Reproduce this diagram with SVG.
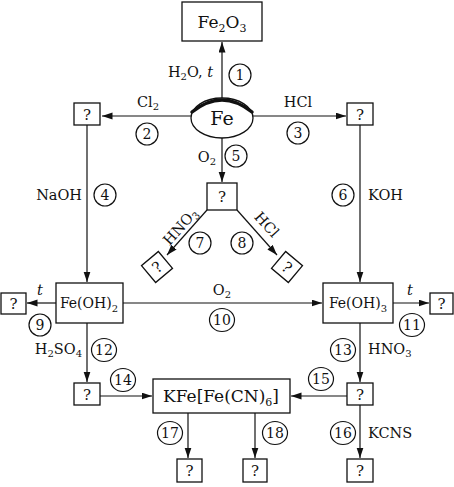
<svg xmlns="http://www.w3.org/2000/svg" width="454" height="487" viewBox="0 0 454 487">
<defs>
<marker id="ah" markerUnits="userSpaceOnUse" markerWidth="11" markerHeight="8" refX="10.5" refY="3.5" orient="auto">
<path d="M0,0 L10.5,3.5 L0,7 z" fill="#111"/>
</marker>
<style>
text{font-family:"DejaVu Serif","Liberation Serif",serif;fill:#111}
.box{fill:#fff;stroke:#111;stroke-width:1.3}
.c{fill:#fff;stroke:#111;stroke-width:1.2}
.n{font-size:14px;text-anchor:middle}
.l{font-size:14.5px}
.q{font-size:15px;text-anchor:middle}
#conn path{fill:none;stroke:#111;stroke-width:1.2;marker-end:url(#ah)}
</style>
</defs>
<rect width="454" height="487" fill="#fff"/>
<g id="conn">
<path d="M222,98 L222,42"/>
<path d="M191,116 L102,116"/>
<path d="M253,116 L346,116"/>
<path d="M87,125 L87,282"/>
<path d="M222,138 L222,182"/>
<path d="M360,125 L360,282"/>
<path d="M207,210 L167,255"/>
<path d="M237,210 L277,255"/>
<path d="M56,303 L27,303"/>
<path d="M123,303 L322,303"/>
<path d="M393,303 L429,303"/>
<path d="M87,323 L87,382"/>
<path d="M360,323 L360,382"/>
<path d="M100,396 L152,396"/>
<path d="M347,396 L291,396"/>
<path d="M360,405 L360,458"/>
<path d="M188,413 L188,458"/>
<path d="M255,413 L255,458"/>
</g>
<g id="fe2o3"><rect class="box" x="182" y="2" width="80" height="39"/>
<text x="222" y="28" font-size="17" text-anchor="middle">Fe<tspan font-size="11" dy="4">2</tspan><tspan dy="-4">O</tspan><tspan font-size="11" dy="4">3</tspan></text></g>
<g id="fe"><ellipse cx="222" cy="118" rx="31" ry="20" fill="#fff" stroke="#111" stroke-width="1.3"/>
<path d="M192,112 Q222,88 252,112" fill="none" stroke="#111" stroke-width="3.5" stroke-linecap="round"/>
<text x="222" y="125" font-size="19" text-anchor="middle">Fe</text></g>
<g id="q2"><rect class="box" x="74" y="103" width="26" height="22"/><text class="q" x="87" y="119.5">?</text></g>
<g id="q3"><rect class="box" x="347" y="103" width="26" height="22"/><text class="q" x="360" y="119.5">?</text></g>
<g id="q5"><rect class="box" x="207" y="183" width="30" height="27"/><text class="q" x="222" y="202">?</text></g>
<g id="q7" transform="translate(157,267) rotate(-40)"><rect class="box" x="-11" y="-11" width="22" height="22"/><text class="q" x="0" y="5.5">?</text></g>
<g id="q8" transform="translate(287,267) rotate(40)"><rect class="box" x="-11" y="-11" width="22" height="22"/><text class="q" x="0" y="5.5">?</text></g>
<g id="feoh2"><rect class="box" x="56" y="283" width="67" height="40"/>
<text x="89" y="308" font-size="14" text-anchor="middle">Fe(OH)<tspan font-size="10" dy="4">2</tspan></text></g>
<g id="feoh3"><rect class="box" x="323" y="283" width="70" height="40"/>
<text x="358" y="308" font-size="14" text-anchor="middle">Fe(OH)<tspan font-size="10" dy="4">3</tspan></text></g>
<g id="q9"><rect class="box" x="1" y="293" width="25" height="21"/><text class="q" x="13.5" y="309">?</text></g>
<g id="q11"><rect class="box" x="430" y="293" width="23" height="21"/><text class="q" x="441.5" y="309">?</text></g>
<g id="q12"><rect class="box" x="74" y="383" width="26" height="22"/><text class="q" x="87" y="399.5">?</text></g>
<g id="q13"><rect class="box" x="347" y="383" width="26" height="22"/><text class="q" x="360" y="399.5">?</text></g>
<g id="kfe"><rect class="box" x="153" y="379" width="137" height="34"/>
<text x="221" y="402" font-size="17" text-anchor="middle">KFe[Fe(CN)<tspan font-size="11" dy="4">6</tspan><tspan dy="-4">]</tspan></text></g>
<g id="q17"><rect class="box" x="177" y="459" width="25" height="23"/><text class="q" x="189.5" y="476">?</text></g>
<g id="q18"><rect class="box" x="243" y="459" width="24" height="23"/><text class="q" x="255" y="476">?</text></g>
<g id="q16"><rect class="box" x="347" y="459" width="26" height="23"/><text class="q" x="360" y="476">?</text></g>
<g id="labels">
<text class="l" x="213" y="77" text-anchor="end">H<tspan font-size="10" dy="3">2</tspan><tspan dy="-3">O, </tspan><tspan font-style="italic">t</tspan></text>
<text class="l" x="148" y="107" text-anchor="middle">Cl<tspan font-size="10" dy="3">2</tspan></text>
<text class="l" x="298" y="107" text-anchor="middle">HCl</text>
<text class="l" x="216" y="162" text-anchor="end">O<tspan font-size="10" dy="3">2</tspan></text>
<text class="l" x="82" y="200" text-anchor="end">NaOH</text>
<text class="l" x="368" y="200">KOH</text>
<text class="l" transform="translate(184,230) rotate(-48)" text-anchor="middle">HNO<tspan font-size="10" dy="3">3</tspan></text>
<text class="l" transform="translate(263,228) rotate(48)" text-anchor="middle">HCl</text>
<text class="l" x="40" y="295" text-anchor="middle" font-style="italic">t</text>
<text class="l" x="222" y="295" text-anchor="middle">O<tspan font-size="10" dy="3">2</tspan></text>
<text class="l" x="410" y="295" text-anchor="middle" font-style="italic">t</text>
<text class="l" x="82" y="354" text-anchor="end">H<tspan font-size="10" dy="3">2</tspan><tspan dy="-3">SO</tspan><tspan font-size="10" dy="3">4</tspan></text>
<text class="l" x="368" y="354">HNO<tspan font-size="10" dy="3">3</tspan></text>
<text class="l" x="368" y="438">KCNS</text>
</g>
<g id="nums">
<circle class="c" cx="240" cy="75" r="11"/><text class="n" x="240" y="80">1</text>
<circle class="c" cx="147" cy="134" r="11"/><text class="n" x="147" y="139">2</text>
<circle class="c" cx="298" cy="133" r="11"/><text class="n" x="298" y="138">3</text>
<circle class="c" cx="105" cy="195" r="11"/><text class="n" x="105" y="200">4</text>
<circle class="c" cx="236" cy="156" r="11"/><text class="n" x="236" y="161">5</text>
<circle class="c" cx="343" cy="195" r="11"/><text class="n" x="343" y="200">6</text>
<circle class="c" cx="200" cy="243" r="11"/><text class="n" x="200" y="248">7</text>
<circle class="c" cx="242" cy="243" r="11"/><text class="n" x="242" y="248">8</text>
<circle class="c" cx="40" cy="325" r="11"/><text class="n" x="40" y="330">9</text>
<ellipse class="c" cx="222" cy="320" rx="12.5" ry="11.5"/><text class="n" x="222" y="325">10</text>
<ellipse class="c" cx="412" cy="325" rx="12.5" ry="11.5"/><text class="n" x="412" y="330">11</text>
<ellipse class="c" cx="104" cy="350" rx="12.5" ry="11.5"/><text class="n" x="104" y="355">12</text>
<ellipse class="c" cx="343" cy="350" rx="12.5" ry="11.5"/><text class="n" x="343" y="355">13</text>
<ellipse class="c" cx="123" cy="380" rx="12.5" ry="11.5"/><text class="n" x="123" y="385">14</text>
<ellipse class="c" cx="321" cy="379" rx="12.5" ry="11.5"/><text class="n" x="321" y="384">15</text>
<ellipse class="c" cx="343" cy="433" rx="12.5" ry="11.5"/><text class="n" x="343" y="438">16</text>
<ellipse class="c" cx="170" cy="433" rx="12.5" ry="11.5"/><text class="n" x="170" y="438">17</text>
<ellipse class="c" cx="275" cy="433" rx="12.5" ry="11.5"/><text class="n" x="275" y="438">18</text>
</g>
</svg>
